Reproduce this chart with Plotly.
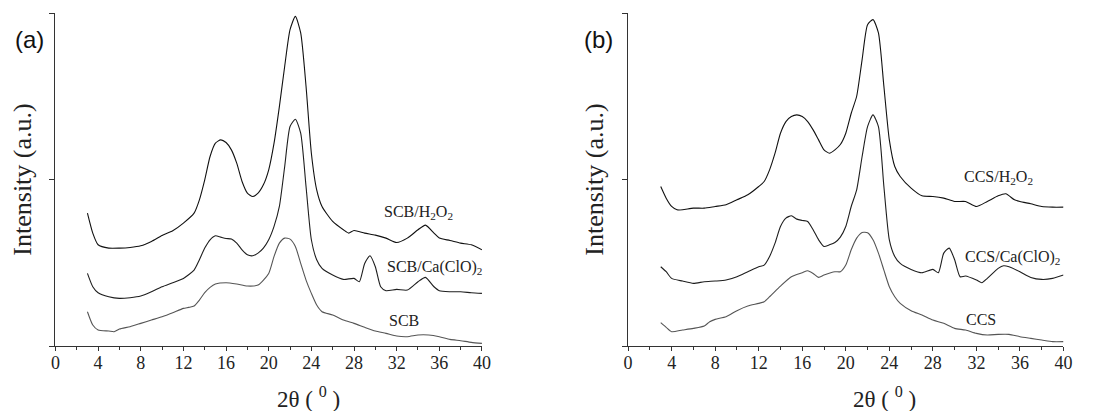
import plotly.graph_objects as go

# ---------------- data ----------------
# Panel (a)
a_h2o2_x = [3, 3.5, 4, 5, 6, 7, 8, 9, 10, 11, 12, 13, 13.5, 14, 14.5, 15, 15.5, 16, 16.5, 17, 17.5, 18, 18.5, 19, 19.5, 20,
            20.5, 21, 21.5, 22, 22.5, 23, 23.5, 24, 24.5, 25, 26, 27, 27.5, 28, 29, 30, 31, 32, 33, 34, 34.7, 35.5, 36, 37, 38, 39, 40]
a_h2o2_y = [39.9, 33.9, 30.4, 29.4, 29.4, 29.6, 30.1, 31.4, 33.2, 34.6, 36.9, 39.9, 43.9, 49.9, 56.9, 60.9, 61.9, 61.1, 58.9,
            54.9, 49.4, 45.9, 44.9, 45.9, 48.4, 52.9, 60.9, 71.9, 84.0, 95.0, 99.0, 94.0, 78.0, 57.9, 46.9, 41.9, 37.4, 34.9,
            33.9, 34.7, 33.9, 33.3, 32.4, 31.1, 32.4, 34.9, 36.3, 33.9, 32.4, 31.7, 30.9, 30.4, 28.9]

a_ca_x = [3, 3.5, 4, 5, 6, 7, 8, 9, 10, 11, 12, 13, 13.5, 14, 14.5, 15, 15.5, 16, 16.5, 17, 17.5, 18, 18.5, 19, 19.5, 20,
          20.5, 21, 21.5, 22, 22.5, 23, 23.5, 24, 24.5, 25, 26, 27, 28, 28.5, 29, 29.5, 30, 30.5, 31, 32, 33, 34, 34.7,
          35.5, 36, 37, 38, 39, 40]
a_ca_y = [21.8, 17.8, 16.0, 14.8, 14.3, 14.5, 15.0, 16.3, 17.8, 19.0, 20.3, 22.8, 25.9, 29.4, 31.9, 33.1, 32.7, 32.3, 32.1,
          30.9, 28.9, 27.4, 27.1, 27.9, 29.4, 31.9, 35.9, 41.9, 53.9, 65.9, 68.1, 63.9, 47.9, 31.9, 25.9, 23.3, 21.3, 20.0,
          20.3, 19.3, 24.8, 27.1, 23.8, 17.8, 16.6, 17.0, 16.8, 19.3, 20.6, 17.8, 16.6, 16.3, 16.3, 16.0, 15.8]

a_raw_x = [3, 3.5, 4, 5, 5.5, 6, 7, 8, 9, 10, 11, 12, 12.5, 13, 13.5, 14, 14.5, 15, 16, 17, 18, 19, 20, 20.5, 21, 21.5, 22,
           22.5, 23, 23.5, 24, 24.5, 25, 26, 27, 28, 29, 30, 31, 32, 33, 34, 35, 36, 37, 38, 39, 40]
a_raw_y = [10.3, 6.3, 4.8, 4.5, 4.3, 5.1, 5.8, 6.8, 7.8, 8.8, 10.0, 11.3, 11.6, 12.0, 13.8, 16.0, 17.6, 18.6, 19.0, 18.6,
           18.0, 18.3, 21.8, 26.9, 30.9, 32.4, 32.1, 29.9, 24.8, 19.8, 15.8, 12.3, 10.3, 9.3, 7.8, 6.8, 5.6, 4.5, 3.8, 3.0,
           2.8, 3.3, 3.3, 2.8, 2.0, 1.6, 1.1, 0.8]

# Panel (b)
b_h2o2_x = [3, 3.5, 4, 4.5, 5, 6, 7, 8, 9, 10, 11, 12, 12.5, 13, 13.5, 14, 14.5, 15, 15.5, 16, 16.5, 17, 17.5, 18, 18.5, 19,
            19.5, 20, 20.5, 21, 21.5, 22, 22.5, 23, 23.5, 24, 24.5, 25, 26, 27, 28, 29, 30, 31, 32, 33, 34, 34.7, 35.5, 36,
            37, 38, 39, 40]
b_h2o2_y = [47.9, 44.4, 41.9, 40.9, 40.9, 41.4, 41.4, 41.9, 42.4, 43.9, 45.4, 47.9, 49.4, 52.9, 57.9, 63.9, 67.4, 68.9, 69.4,
            68.9, 67.4, 64.9, 61.9, 58.9, 57.9, 58.9, 60.5, 63.9, 69.9, 75.0, 86.0, 96.5, 98.0, 94.0, 78.0, 61.9, 53.9, 50.9,
            47.4, 45.1, 44.9, 44.4, 43.4, 43.4, 41.9, 43.4, 45.1, 45.7, 43.9, 43.4, 42.7, 41.9, 41.7, 41.7]

b_ca_x = [3, 3.5, 4, 5, 6, 7, 8, 9, 10, 11, 12, 12.5, 13, 13.5, 14, 14.5, 15, 15.5, 16, 16.5, 17, 17.5, 18, 18.5, 19, 19.5,
          20, 20.5, 21, 21.5, 22, 22.5, 23, 23.5, 24, 24.5, 25, 26, 27, 28, 28.5, 29, 29.5, 30, 30.5, 31, 32, 32.5, 33, 34,
          34.5, 35, 36, 37, 38, 39, 40]
b_ca_y = [23.8, 22.3, 20.3, 19.5, 18.8, 19.3, 19.5, 19.8, 20.8, 22.3, 23.8, 24.3, 26.9, 30.9, 35.9, 38.4, 39.1, 38.1, 37.7,
          37.4, 34.9, 31.9, 29.9, 30.4, 31.1, 32.7, 35.9, 41.9, 46.9, 56.9, 65.9, 69.4, 65.9, 47.9, 31.9, 26.9, 24.8, 23.0,
          22.0, 23.0, 22.0, 27.9, 29.4, 25.9, 20.8, 21.0, 19.8, 19.0, 20.3, 23.3, 24.1, 23.8, 22.3, 20.6, 20.0, 20.3, 21.3]

b_raw_x = [3, 3.5, 4, 5, 6, 7, 7.5, 8, 9, 10, 11, 12, 12.5, 13, 14, 15, 16, 16.5, 17, 17.5, 18, 19, 19.5, 20, 20.5, 21, 21.5,
           22, 22.5, 23, 23.5, 24, 24.5, 25, 26, 27, 28, 29, 30, 31, 32, 33, 34, 35, 36, 37, 38, 39, 40]
b_raw_y = [7.0, 5.6, 4.3, 4.8, 5.3, 6.0, 7.3, 8.0, 8.8, 10.6, 12.0, 12.8, 13.3, 14.8, 18.0, 20.8, 22.0, 22.6, 21.8, 20.6,
           21.3, 22.3, 22.3, 24.3, 28.9, 32.4, 34.1, 34.0, 31.9, 27.9, 22.8, 17.8, 14.8, 12.8, 10.6, 9.3, 7.8, 6.8, 5.3,
           4.8, 3.8, 3.3, 3.5, 3.5, 2.8, 2.3, 1.8, 1.3, 1.3]

x_ticks = [0, 4, 8, 12, 16, 20, 24, 28, 32, 36, 40]
y_ticks = [0, 50, 100]

labels_a = ["SCB/H<sub>2</sub>O<sub>2</sub>", "SCB/Ca(ClO)<sub>2</sub>", "SCB"]
labels_b = ["CCS/H<sub>2</sub>O<sub>2</sub>", "CCS/Ca(ClO)<sub>2</sub>", "CCS"]
label_a_pos = [(30.65, 40.2), (30.9, 23.7), (31.1, 7.8)]
label_b_pos = [(30.66, 50.5), (30.8, 26.7), (30.9, 8.1)]

line_colors = ["#111111", "#1e1e1e", "#555555"]

# ---------------- geometry helpers (page has an 8px body margin) ----------------
OFF = 8
W, H = 1110 - OFF, 411 - OFF


def px(p):
    return (p - OFF) / W


def py(p):
    return 1 - (p - OFF) / H


# ---------------- figure ----------------
fig = go.Figure()

panels = [
    ("x", "y", [(a_h2o2_x, a_h2o2_y), (a_ca_x, a_ca_y), (a_raw_x, a_raw_y)]),
    ("x2", "y2", [(b_h2o2_x, b_h2o2_y), (b_ca_x, b_ca_y), (b_raw_x, b_raw_y)]),
]
for xa, ya, series in panels:
    for (sx, sy), col in zip(series, line_colors):
        fig.add_trace(go.Scatter(x=sx, y=sy, mode="lines", xaxis=xa, yaxis=ya,
                                 line=dict(color=col, width=1.1, shape="spline", smoothing=0.6),
                                 showlegend=False, hoverinfo="skip"))

serif = "Liberation Serif"
axis_common = dict(showline=True, linecolor="#333333", linewidth=1.2, showgrid=False, zeroline=False,
                   mirror=False)
xcommon = dict(axis_common, range=[0, 40], tickmode="array", tickvals=x_ticks,
               ticktext=[str(t) for t in x_ticks], ticks="outside", ticklen=4, tickcolor="#333333",
               ticklabelstandoff=-4,
               tickfont=dict(family=serif, size=18, color="#222222"),
               minor=dict(dtick=2, ticks="outside", ticklen=3, tickcolor="#333333"))
ycommon = dict(axis_common, range=[0, 100], tickmode="array", tickvals=y_ticks, showticklabels=False,
               ticks="outside", ticklen=5, tickcolor="#333333",
               title=dict(text="Intensity (a.u.)", font=dict(family=serif, size=26, color="#222222"),
                          standoff=10))

ydom = [py(346), py(13)]
fig.update_layout(
    width=W, height=H,
    margin=dict(l=0, r=0, t=0, b=0),
    paper_bgcolor="white", plot_bgcolor="white",
    xaxis=dict(xcommon, domain=[px(51), px(483)], anchor="y"),
    yaxis=dict(ycommon, domain=ydom, anchor="x"),
    xaxis2=dict(xcommon, domain=[px(631), px(1072)], anchor="y2"),
    yaxis2=dict(ycommon, domain=ydom, anchor="x2"),
)

ann = []
for (txt, (ax_, ay_)) in zip(labels_a, label_a_pos):
    ann.append(dict(x=ax_, y=ay_, xref="x", yref="y", text=txt, showarrow=False, xanchor="left",
                    yanchor="middle", font=dict(family=serif, size=16, color="#222222")))
for (txt, (ax_, ay_)) in zip(labels_b, label_b_pos):
    ann.append(dict(x=ax_, y=ay_, xref="x2", yref="y2", text=txt, showarrow=False, xanchor="left",
                    yanchor="middle", font=dict(family=serif, size=16, color="#222222")))
# panel letters
for letter, lx in (("(a)", 8), ("(b)", 584)):
    ann.append(dict(x=px(lx), y=py(40), xref="paper", yref="paper", text=letter, showarrow=False,
                    xanchor="left", yanchor="middle",
                    font=dict(family="Liberation Sans", size=24, color="#111111")))
# x-axis titles
for cx in (307, 891):
    ann.append(dict(x=px(cx), y=py(397), xref="paper", yref="paper", text="2θ ( <sup>0</sup> )",
                    showarrow=False, xanchor="center", yanchor="middle",
                    font=dict(family=serif, size=23, color="#222222")))
fig.update_layout(annotations=ann)

fig.write_html("out.html")
